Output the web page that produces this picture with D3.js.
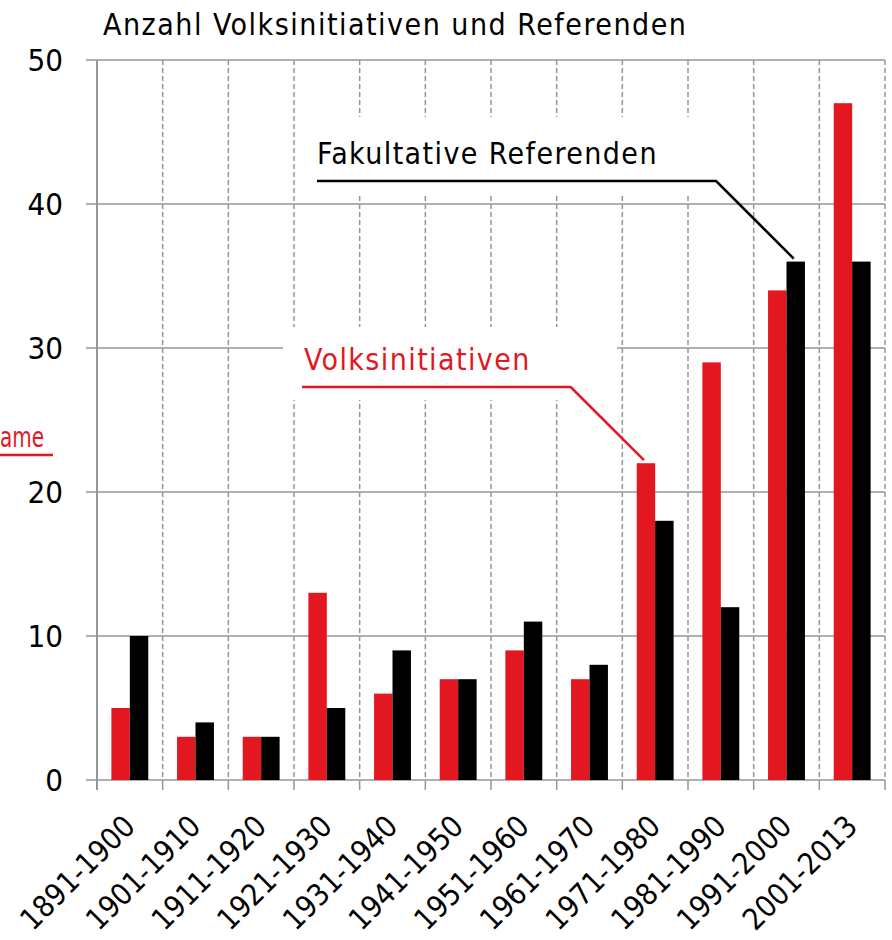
<!DOCTYPE html>
<html>
<head>
<meta charset="utf-8">
<script src="https://cdn.jsdelivr.net/npm/d3@7"></script>
<style>
  body { margin: 0; background: #fff; }
  svg text { font-family: 'DejaVu Sans Condensed', 'DejaVu Sans', sans-serif; font-stretch: condensed; }
</style>
</head>
<body>
<div id="chart"></div>
<script>
// data
const categories = ['1891-1900', '1901-1910', '1911-1920', '1921-1930', '1931-1940', '1941-1950',
    '1951-1960', '1961-1970', '1971-1980', '1981-1990', '1991-2000', '2001-2013'];
const volksinitiativen = [5, 3, 3, 13, 6, 7, 9, 7, 22, 29, 34, 47];
const referenden = [10, 4, 3, 5, 9, 7, 11, 8, 18, 12, 36, 36];
const yTicks = [0, 10, 20, 30, 40, 50];
const seriesNames = ['Volksinitiativen', 'Fakultative Referenden'];

const RED = '#e3171f';
const GRID = '#969696';

const width = 892, height = 940;
const plotLeft = 97, plotRight = 885, plotTop = 60, plotBottom = 780;

const svg = d3.select('#chart').append('svg')
    .attr('width', width)
    .attr('height', height);

const x0 = d3.scaleBand().domain(categories).range([plotLeft, plotRight]).padding(0);
const x1 = d3.scaleBand().domain(seriesNames).range([0, x0.bandwidth()])
    .paddingInner(0).paddingOuter(0.78);
const y = d3.scaleLinear().domain([0, 50]).range([plotBottom, plotTop]);

// horizontal grid
svg.append('g').selectAll('line').data(yTicks).enter().append('line')
    .attr('x1', plotLeft - 11).attr('x2', plotRight)
    .attr('y1', d => y(d)).attr('y2', d => y(d))
    .attr('stroke', GRID).attr('stroke-width', 1.5);

// vertical dashed separators
let bounds = categories.map(c => x0(c)).concat([plotRight]);
let vg = svg.append('g');
vg.selectAll('.sep').data(bounds.slice(1)).enter().append('line')
    .attr('class', 'sep')
    .attr('x1', d => d).attr('x2', d => d)
    .attr('y1', plotTop).attr('y2', plotBottom)
    .attr('stroke', GRID).attr('stroke-width', 1.5)
    .attr('stroke-dasharray', '5,3');
// tick stubs below the axis
vg.selectAll('.stub').data(bounds).enter().append('line')
    .attr('class', 'stub')
    .attr('x1', d => d).attr('x2', d => d)
    .attr('y1', plotBottom).attr('y2', plotBottom + 10)
    .attr('stroke', GRID).attr('stroke-width', 1.5);
// y axis line
svg.append('line')
    .attr('x1', plotLeft).attr('x2', plotLeft)
    .attr('y1', plotTop).attr('y2', plotBottom + 10)
    .attr('stroke', GRID).attr('stroke-width', 2);

// white boxes behind the annotation labels
svg.append('rect').attr('x', 297).attr('y', 117).attr('width', 440).attr('height', 78).attr('fill', '#fff');
svg.append('rect').attr('x', 283).attr('y', 327).attr('width', 334).attr('height', 73).attr('fill', '#fff');

// bars
const rows = categories.map((c, i) => ({cat: c, values: [
    {key: seriesNames[0], value: volksinitiativen[i], color: RED},
    {key: seriesNames[1], value: referenden[i], color: '#000'}
]}));

svg.append('g').selectAll('g').data(rows).enter().append('g')
    .attr('transform', d => `translate(${x0(d.cat)},0)`)
    .selectAll('rect').data(d => d.values).enter().append('rect')
    .attr('x', d => x1(d.key))
    .attr('width', x1.bandwidth())
    .attr('y', d => y(d.value))
    .attr('height', d => y(0) - y(d.value))
    .attr('fill', d => d.color);

// y tick labels
svg.append('g').selectAll('text').data(yTicks).enter().append('text')
    .attr('x', 63).attr('y', d => y(d))
    .attr('dy', '0.36em')
    .attr('text-anchor', 'end')
    .attr('font-size', 31)
    .attr('fill', '#000')
    .text(d => d);

// x tick labels, rotated
svg.append('g').selectAll('text').data(categories).enter().append('text')
    .attr('transform', d => `translate(${x0(d) + x0.bandwidth() / 2 + 7},${plotBottom + 48}) rotate(-45)`)
    .attr('text-anchor', 'end')
    .attr('font-size', 30)
    .attr('fill', '#000')
    .text(d => d);

// title
svg.append('text')
    .attr('x', 103).attr('y', 35)
    .attr('font-size', 30)
    .attr('letter-spacing', 1.5)
    .attr('fill', '#000')
    .text('Anzahl Volksinitiativen und Referenden');

// label cut by the left edge in the original, only its tail shows
svg.append('text')
    .attr('x', 0).attr('y', 447)
    .attr('font-size', 28)
    .attr('textLength', 44)
    .attr('lengthAdjust', 'spacingAndGlyphs')
    .attr('fill', RED)
    .text('ame');
svg.append('line')
    .attr('x1', 0).attr('x2', 53).attr('y1', 455).attr('y2', 455)
    .attr('stroke', RED).attr('stroke-width', 2.5);

// annotations with leader lines
function annotate(label, color, tx, ty, lineY, lineX0, cat, key, value){
    svg.append('text')
        .attr('x', tx).attr('y', ty)
        .attr('font-size', 30)
        .attr('letter-spacing', 1.4)
        .attr('fill', color)
        .text(label);
    let ex = x0(cat) + x1(key) + x1.bandwidth() / 2 - 2;
    let ey = y(value) - 3;
    let kx = ex - (ey - lineY);
    svg.append('polyline')
        .attr('points', [[lineX0, lineY], [kx, lineY], [ex, ey]].map(p => p.join(',')).join(' '))
        .attr('fill', 'none')
        .attr('stroke', color)
        .attr('stroke-width', 2.5);
}
annotate('Fakultative Referenden', '#000', 317, 164, 181, 317, '1991-2000', seriesNames[1], referenden[10]);
annotate('Volksinitiativen', RED, 304, 370, 387, 302, '1971-1980', seriesNames[0], volksinitiativen[8]);
</script>
</body>
</html>
